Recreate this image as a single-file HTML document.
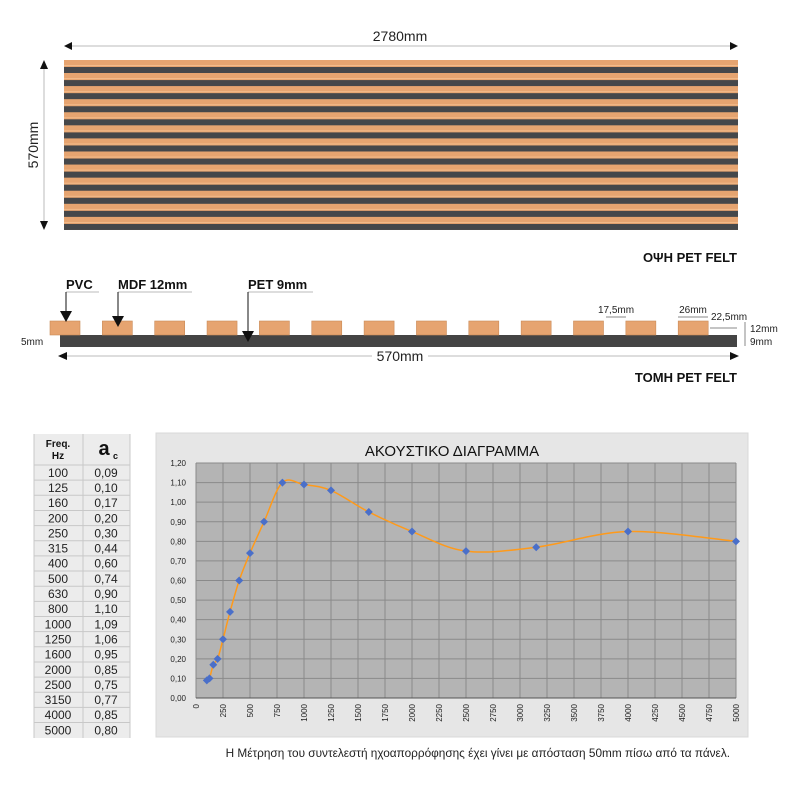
<!DOCTYPE html>
<html><head><meta charset="utf-8">
<style>
body{margin:0;background:#fff;width:800px;height:800px;overflow:hidden;font-family:"Liberation Sans","DejaVu Sans",sans-serif;}
svg{display:block}
</style></head>
<body>
<svg width="800" height="800" viewBox="0 0 800 800">
<rect x="0" y="0" width="800" height="800" fill="#fff"/>
<g>
  <line x1="66" y1="46" x2="736" y2="46" stroke="#ddd" stroke-width="2"/>
  <polygon points="64,46 72,42 72,50" fill="#111"/>
  <polygon points="738,46 730,42 730,50" fill="#111"/>
  <text x="400" y="41" font-size="14" text-anchor="middle" fill="#222">2780mm</text>
  <line x1="44" y1="64" x2="44" y2="226" stroke="#ddd" stroke-width="2"/>
  <polygon points="44,60 40,69 48,69" fill="#111"/>
  <polygon points="44,230 40,221 48,221" fill="#111"/>
  <text transform="translate(38,145) rotate(-90)" font-size="14" text-anchor="middle" fill="#222">570mm</text>
  <rect x="64" y="60" width="674" height="170" fill="#e6a470"/>
  <g id="stripes"></g>
  <text x="737" y="262" font-size="13" font-weight="bold" text-anchor="end" fill="#111">ΟΨΗ PET FELT</text>
</g>
<g>
  <rect x="60" y="335" width="677" height="12" fill="#444"/>
  <g id="slats"></g>
  <text x="66" y="289" font-size="13" font-weight="bold" fill="#111">PVC</text>
  <line x1="66" y1="292" x2="99" y2="292" stroke="#bbb"/>
  <line x1="66" y1="292" x2="66" y2="318" stroke="#111"/>
  <polygon points="60,311 72,311 66,322" fill="#111"/>
  <text x="118" y="289" font-size="13" font-weight="bold" fill="#111">MDF 12mm</text>
  <line x1="118" y1="292" x2="192" y2="292" stroke="#bbb"/>
  <line x1="118" y1="292" x2="118" y2="318" stroke="#111"/>
  <polygon points="112,316 124,316 118,327" fill="#111"/>
  <text x="248" y="289" font-size="13" font-weight="bold" fill="#111">PET 9mm</text>
  <line x1="248" y1="292" x2="313" y2="292" stroke="#bbb"/>
  <line x1="248" y1="292" x2="248" y2="333" stroke="#111"/>
  <polygon points="242,331 254,331 248,342" fill="#111"/>
  <text x="21" y="345" font-size="10" fill="#222">5mm</text>
  <text x="616" y="313" font-size="10" text-anchor="middle" fill="#222">17,5mm</text>
  <line x1="606" y1="317" x2="626" y2="317" stroke="#888"/>
  <text x="693" y="313" font-size="10" text-anchor="middle" fill="#222">26mm</text>
  <line x1="678" y1="317" x2="708" y2="317" stroke="#888"/>
  <text x="711" y="320" font-size="10" fill="#222">22,5mm</text>
  <line x1="710" y1="328" x2="737" y2="328" stroke="#888"/>
  <text x="750" y="332" font-size="10" fill="#222">12mm</text>
  <text x="750" y="345" font-size="10" fill="#222">9mm</text>
  <line x1="745" y1="322" x2="745" y2="346" stroke="#888"/>
  <line x1="62" y1="356" x2="735" y2="356" stroke="#ddd" stroke-width="2"/>
  <polygon points="58,356 67,352 67,360" fill="#111"/>
  <polygon points="739,356 730,352 730,360" fill="#111"/>
  <rect x="372" y="348" width="56" height="16" fill="#fff"/>
  <text x="400" y="361" font-size="14" text-anchor="middle" fill="#222">570mm</text>
  <text x="737" y="382" font-size="13" font-weight="bold" text-anchor="end" fill="#111">ΤΟΜΗ PET FELT</text>
</g>
<g id="table"></g>
<g>
  <rect x="156" y="433" width="592" height="304" fill="#e6e6e6" stroke="#d8d8d8"/>
  <text x="452" y="456" font-size="15" text-anchor="middle" fill="#111">ΑΚΟΥΣΤΙΚΟ ΔΙΑΓΡΑΜΜΑ</text>
  <rect x="196" y="463" width="540" height="235" fill="#b4b4b4"/>
  <g id="grid"></g>
  <g id="marks"></g>
</g>
<text x="730" y="757" font-size="11.8" text-anchor="end" fill="#222">Η Μέτρηση του συντελεστή ηχοαπορρόφησης έχει γίνει με απόσταση 50mm πίσω από τα πάνελ.</text>
</svg>
<script>
const freqs=[100,125,160,200,250,315,400,500,630,800,1000,1250,1600,2000,2500,3150,4000,5000];
const alphaLabels=["0,09","0,10","0,17","0,20","0,30","0,44","0,60","0,74","0,90","1,10","1,09","1,06","0,95","0,85","0,75","0,77","0,85","0,80"];
const alphas=[0.09,0.10,0.17,0.20,0.30,0.44,0.60,0.74,0.90,1.10,1.09,1.06,0.95,0.85,0.75,0.77,0.85,0.80];
const yTicks=[0,0.1,0.2,0.3,0.4,0.5,0.6,0.7,0.8,0.9,1.0,1.1,1.2];
const xTicks=[0,250,500,750,1000,1250,1500,1750,2000,2250,2500,2750,3000,3250,3500,3750,4000,4250,4500,4750,5000];
const NS="http://www.w3.org/2000/svg";
function mk(tag,attrs,parent){const e=document.createElementNS(NS,tag);for(const k in attrs)e.setAttribute(k,attrs[k]);parent.appendChild(e);return e;}
const st=document.getElementById('stripes');
for(let i=0;i<13;i++){const y=60+7+i*13.08;
 const r=mk('rect',{x:64,y:y,width:674,height:6,fill:'#45474a'},st);
 
 
 mk('rect',{x:64,y:y-2,width:674,height:1,fill:'#f3bb8a'},st);}
const sl=document.getElementById('slats');
for(let i=0;i<13;i++){const x=50+i*52.35;
 const r=mk('rect',{x:x,y:321,width:30,height:14,fill:'#e6a470',stroke:'#c98a58','stroke-width':0.6},sl);
 
 }
const tb=document.getElementById('table');
mk('rect',{x:34,y:434,width:96,height:304,fill:'#ececec'},tb);
mk('line',{x1:83,y1:434,x2:83,y2:738,stroke:'#c8c8c8'},tb);
mk('line',{x1:34,y1:434,x2:34,y2:738,stroke:'#c8c8c8'},tb);
mk('line',{x1:130,y1:434,x2:130,y2:738,stroke:'#c8c8c8'},tb);
let t=mk('text',{x:58,y:447,'font-size':10,'font-weight':'bold','text-anchor':'middle',fill:'#111'},tb);t.textContent='Freq.';
t=mk('text',{x:58,y:459,'font-size':10,'font-weight':'bold','text-anchor':'middle',fill:'#111'},tb);t.textContent='Hz';
t=mk('text',{x:104,y:455,'font-size':20,'font-weight':'bold','text-anchor':'middle',fill:'#111'},tb);t.textContent='a';
t=mk('text',{x:113,y:459,'font-size':9,'font-weight':'bold',fill:'#111'},tb);t.textContent='c';
const rh=15.15;
for(let i=0;i<freqs.length;i++){const y=465+i*rh;
 mk('line',{x1:34,y1:y,x2:130,y2:y,stroke:'#c8c8c8'},tb);
 let a=mk('text',{x:58,y:y+11.8,'font-size':12,'text-anchor':'middle',fill:'#222'},tb);a.textContent=freqs[i];
 
 
 let b=mk('text',{x:106,y:y+11.8,'font-size':12,'text-anchor':'middle',fill:'#222'},tb);b.textContent=alphaLabels[i];
 
 }
const X0=196,X1=736,Y0=698,Y1=463;
const sx=v=>X0+(v/5000)*(X1-X0);
const sy=v=>Y0-(v/1.2)*(Y0-Y1);
const g=document.getElementById('grid');
yTicks.forEach(v=>{const y=sy(v);
 mk('line',{x1:X0,y1:y,x2:X1,y2:y,stroke:'#8a8a8a','stroke-width':1},g);
 const tx=mk('text',{x:186,y:y+3,'font-size':8,'text-anchor':'end',fill:'#222'},g);tx.textContent=v.toFixed(2).replace('.',',');
 
 });
xTicks.forEach(v=>{const x=sx(v);
 mk('line',{x1:x,y1:Y1,x2:x,y2:Y0,stroke:'#8a8a8a','stroke-width':1},g);
 const tx=mk('text',{transform:`translate(${x+3},${Y0+6}) rotate(-90)`,'font-size':8,'text-anchor':'end',fill:'#222'},g);tx.textContent=v;
 
 });
mk('line',{x1:X0,y1:Y0,x2:X1,y2:Y0,stroke:'#555'},g);
const m=document.getElementById('marks');
const pts=freqs.map((f,i)=>[sx(f),sy(alphas[i])]);
let d=`M${pts[0][0]},${pts[0][1]}`;
for(let i=0;i<pts.length-1;i++){const p0=pts[Math.max(i-1,0)],p1=pts[i],p2=pts[i+1],p3=pts[Math.min(i+2,pts.length-1)];
 const c1=[p1[0]+(p2[0]-p0[0])/6,p1[1]+(p2[1]-p0[1])/6],c2=[p2[0]-(p3[0]-p1[0])/6,p2[1]-(p3[1]-p1[1])/6];
 d+=` C${c1[0]},${c1[1]} ${c2[0]},${c2[1]} ${p2[0]},${p2[1]}`;}
const ln=mk('path',{d:d,fill:'none',stroke:'#ff9a1a','stroke-width':1.5},m);


pts.forEach(p=>{const pt=mk('path',{d:`M${p[0]},${p[1]-4}L${p[0]+4},${p[1]}L${p[0]},${p[1]+4}L${p[0]-4},${p[1]}Z`,fill:'#4a6fc9'},m);
 
 });
</script>
</body></html>
